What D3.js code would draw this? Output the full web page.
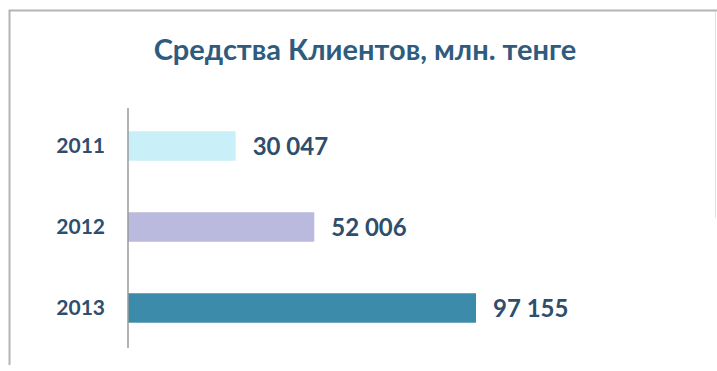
<!DOCTYPE html>
<html>
<head>
<meta charset="utf-8">
<script src="https://cdn.jsdelivr.net/npm/d3@7"></script>
<style>
  body { margin: 0; background: #fff; }
  svg text { font-family: Lato, "Open Sans", sans-serif; font-weight: bold; }
</style>
</head>
<body>
<svg id="chart" width="717" height="371"></svg>
<script>
var years = ['2011', '2012', '2013'];
var values = [30047, 52006, 97155];
var labels = ['30 047', '52 006', '97 155'];
var colors = ['#c9eff9', '#b9badd', '#3d8bab'];

var svg = d3.select('#chart');

// frame of the slide
svg.append('path')
  .attr('d', 'M9.5,365 V10.5 H717')
  .attr('fill', 'none')
  .attr('stroke', '#b4b4b4')
  .attr('stroke-width', 2);
svg.append('line')
  .attr('x1', 715.5).attr('x2', 715.5)
  .attr('y1', 12).attr('y2', 218)
  .attr('stroke', '#e2e2e2');

svg.append('text')
  .attr('x', 365)
  .attr('y', 60)
  .attr('text-anchor', 'middle')
  .attr('font-size', 29)
  .attr('fill', '#2f5c7e')
  .text('Средства Клиентов, млн. тенге');

var x = d3.scaleLinear()
  .domain([0, 97155])
  .range([128, 476]);

var y = d3.scaleBand()
  .domain(years)
  .range([106, 348])
  .paddingInner(0.636)
  .paddingOuter(0.312);

svg.selectAll('.bar')
  .data(values)
  .enter()
  .append('rect')
  .classed('bar', true)
  .attr('x', x(0))
  .attr('y', function(d, i) { return y(years[i]); })
  .attr('width', function(d) { return x(d) - x(0); })
  .attr('height', y.bandwidth())
  .attr('fill', function(d, i) { return colors[i]; });

svg.selectAll('.val')
  .data(values)
  .enter()
  .append('text')
  .classed('val', true)
  .attr('x', function(d) { return x(d) + 17; })
  .attr('y', function(d, i) { return y(years[i]) + y.bandwidth() / 2; })
  .attr('dy', '0.36em')
  .attr('font-size', 24)
  .attr('fill', '#2d4e6c')
  .text(function(d, i) { return labels[i]; });

var axis = svg.append('g')
  .attr('transform', 'translate(' + x(0) + ',0)')
  .call(d3.axisLeft(y).tickSize(0).tickPadding(23));
axis.select('.domain')
  .attr('stroke', '#9a9a9a')
  .attr('stroke-width', 1.5)
  .attr('d', 'M0,108V348');
axis.selectAll('text')
  .attr('font-size', 21)
  .attr('fill', '#2d4e6c')
  .style('font-family', 'Lato, sans-serif')
  .style('font-weight', 'bold');
</script>
</body>
</html>
